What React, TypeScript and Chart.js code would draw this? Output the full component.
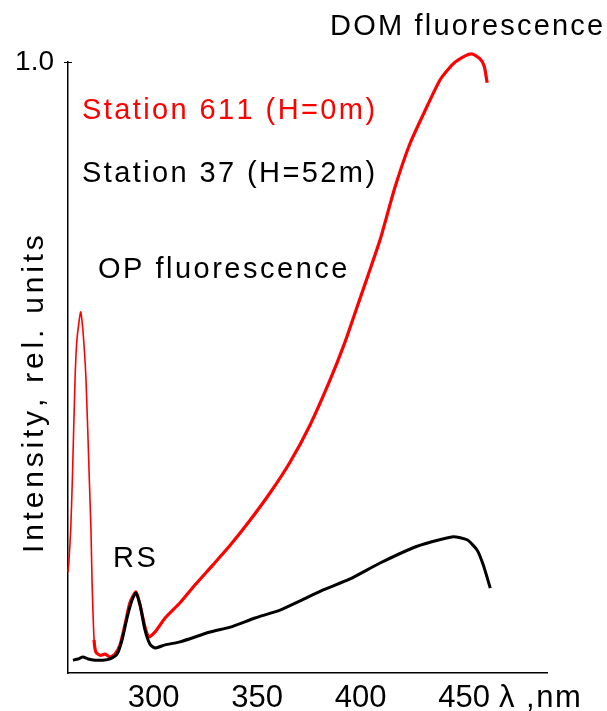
import React, { useEffect, useRef } from "react";
import { Chart, registerables } from "chart.js";

Chart.register(...registerables);

// ---- data (wavelength in nm, relative intensity) ----
const redWavelength = [
  258.7, 259.2, 260.0, 260.8, 262.1, 263.0, 264.8, 265.9, 267.4, 269.0, 269.8, 270.3,
  271.3, 272.2, 274.2, 276.6, 279.0, 281.4, 283.8, 286.2, 288.6, 291.5, 293.5, 295.9,
  297.8, 300.7, 305.6, 312.8, 320.0, 328.7, 337.0, 346.6, 356.3, 365.9, 375.6, 385.3,
  392.5, 398.3, 403.6, 409.4, 416.6, 423.9, 431.2, 438.4, 444.7, 450.5, 453.9, 457.7,
  459.7, 461.1,
];
const redIntensity = [
  0.165, 0.185, 0.234, 0.316, 0.48, 0.545, 0.591, 0.561, 0.48, 0.316, 0.234, 0.152,
  0.054, 0.034, 0.029, 0.031, 0.026, 0.031, 0.046, 0.079, 0.115, 0.133, 0.111, 0.075,
  0.059, 0.067, 0.09, 0.115, 0.144, 0.177, 0.209, 0.25, 0.295, 0.345, 0.406, 0.48,
  0.542, 0.599, 0.651, 0.709, 0.795, 0.867, 0.921, 0.971, 0.997, 1.01, 1.013, 1.005,
  0.993, 0.966,
];

const blackWavelength = [
  261.1, 263.5, 265.9, 268.4, 271.7, 275.6, 279.0, 282.4, 284.8, 287.2, 289.6, 291.5,
  293.5, 295.9, 298.3, 300.7, 305.6, 312.8, 327.3, 337.0, 349.0, 361.1, 370.8, 381.9,
  394.9, 409.4, 425.4, 433.6, 444.7, 451.4, 456.3, 459.2, 462.6,
];
const blackIntensity = [
  0.021, 0.023, 0.026, 0.023, 0.021, 0.021, 0.023, 0.031, 0.054, 0.09, 0.119, 0.131,
  0.111, 0.07, 0.047, 0.041, 0.046, 0.051, 0.067, 0.075, 0.09, 0.103, 0.118, 0.136,
  0.154, 0.18, 0.205, 0.214, 0.223, 0.218, 0.201, 0.177, 0.139,
];

const xTickValues = [300, 350, 400, 450];
const yTickValues = [1.0];
const xUnitLabel = "λ ,nm";
const yTitle = "Intensity, rel. units";
const seriesNames = ["Station 611 (H=0m)", "Station 37 (H=52m)"];
const noteTexts = ["DOM fluorescence", "OP fluorescence", "RS"];

const FONT = "'Liberation Sans', Arial, Helvetica, sans-serif";

function drawSpaced(
  ctx: CanvasRenderingContext2D,
  text: string,
  x: number,
  y: number,
  spacing: number
) {
  let cx = x;
  for (const ch of text) {
    ctx.fillText(ch, cx, y);
    cx += ctx.measureText(ch).width + spacing;
  }
}

const textPlugin = {
  id: "textNotes",
  afterDraw(chart: any) {
    const ctx: CanvasRenderingContext2D = chart.ctx;
    const yScale = chart.scales.y;
    const area = chart.chartArea;
    ctx.save();
    // inner part of the 1.0 tick
    ctx.strokeStyle = "#000";
    ctx.lineWidth = 1;
    const ty = Math.round(yScale.getPixelForValue(1)) + 0.5;
    ctx.beginPath();
    ctx.moveTo(area.left, ty);
    ctx.lineTo(area.left + 4, ty);
    ctx.stroke();

    ctx.textAlign = "left";
    ctx.textBaseline = "alphabetic";
    ctx.font = `29px ${FONT}`;
    ctx.fillStyle = "#000";
    drawSpaced(ctx, noteTexts[0], 330, 35, 2.2);
    ctx.fillStyle = "#ff0000";
    drawSpaced(ctx, seriesNames[0], 82, 119, 2.4);
    ctx.fillStyle = "#000";
    drawSpaced(ctx, seriesNames[1], 82, 182, 2.4);
    drawSpaced(ctx, noteTexts[1], 98, 278, 2.5);
    drawSpaced(ctx, noteTexts[2], 113, 567, 2.5);

    // x unit label after the last tick
    ctx.font = `31px ${FONT}`;
    drawSpaced(ctx, xUnitLabel, 499, 707, 1.5);

    // y title
    ctx.font = `30px ${FONT}`;
    ctx.translate(43, 553);
    ctx.rotate(-Math.PI / 2);
    drawSpaced(ctx, yTitle, 0, 0, 3.8);
    ctx.restore();
  },
};

export default function App() {
  const ref = useRef<HTMLCanvasElement | null>(null);
  useEffect(() => {
    if (!ref.current) return;
    const chart = new Chart(ref.current, {
      type: "line",
      data: {
        datasets: [
          {
            label: seriesNames[1],
            data: blackWavelength.map((x, i) => ({ x, y: blackIntensity[i] })),
            borderColor: "#000000",
            borderWidth: 3,
            pointRadius: 0,
            tension: 0.2,
            clip: false as any,
          },
          {
            label: seriesNames[0],
            data: redWavelength.map((x, i) => ({ x, y: redIntensity[i] })),
            borderColor: "#ff0000",
            borderWidth: 3,
            pointRadius: 0,
            tension: 0.2,
            clip: false as any,
            segment: {
              borderWidth: (c: any) => (c.p0.parsed.x < 271 ? 1.6 : 3.2),
            } as any,
          },
        ],
      },
      options: {
        animation: false,
        responsive: false,
        devicePixelRatio: 1,
        layout: { padding: { left: 0, top: 62, right: 60, bottom: 0 } },
        plugins: { legend: { display: false }, tooltip: { enabled: false } },
        scales: {
          x: {
            type: "linear",
            min: 258.7,
            max: 490,
            grid: { display: false, drawTicks: false, tickLength: 0 },
            border: { display: true, color: "#000", width: 1.5 },
            afterBuildTicks: (s: any) => {
              s.ticks = xTickValues.map((v) => ({ value: v }));
            },
            afterFit: (s: any) => {
              s.height = 38;
            },
            ticks: {
              color: "#000",
              padding: 7,
              maxRotation: 0,
              font: { family: FONT, size: 31 },
              callback: (v: any) => String(v),
            },
          },
          y: {
            type: "linear",
            min: 0,
            max: 1,
            grid: {
              display: true,
              drawOnChartArea: false,
              drawTicks: true,
              tickLength: 4,
              color: "#000",
              lineWidth: 1,
            },
            border: { display: true, color: "#000", width: 1.5 },
            afterBuildTicks: (s: any) => {
              s.ticks = yTickValues.map((v) => ({ value: v }));
            },
            afterFit: (s: any) => {
              s.width = 68;
            },
            ticks: {
              color: "#000",
              padding: 10,
              font: { family: FONT, size: 28 },
              callback: (v: any) => Number(v).toFixed(1),
            },
          },
        },
      },
      plugins: [textPlugin],
    });
    return () => chart.destroy();
  }, []);

  return (
    <div style={{ position: "absolute", left: 0, top: 0, width: 607, height: 711, background: "#fff" }}>
      <canvas ref={ref} width={607} height={711} style={{ display: "block" }} />
    </div>
  );
}
